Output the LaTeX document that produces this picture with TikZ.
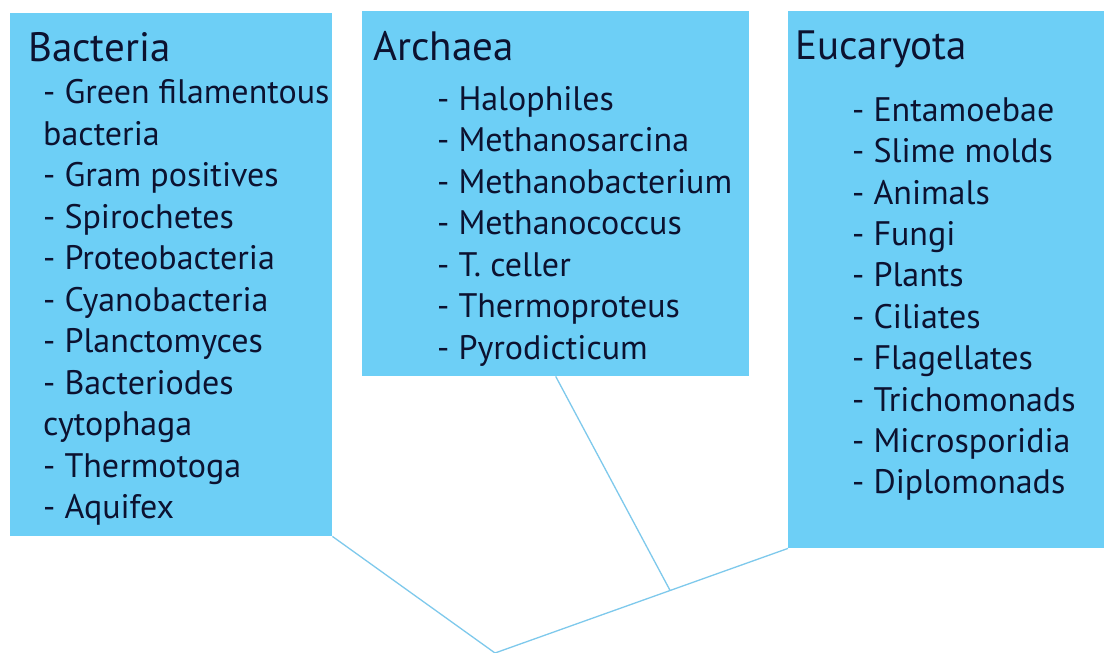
\documentclass[tikz,border=0pt]{standalone}
\usepackage{fontspec}
\setmainfont{PT Sans}
\definecolor{boxblue}{HTML}{6DCFF6}
\definecolor{linkblue}{HTML}{7EC9EC}
\definecolor{ink}{HTML}{0C1230}
\begin{document}
\begin{tikzpicture}[x=1pt,y=-1pt,
  domainbox/.style={fill=boxblue,draw=none,anchor=north west,inner sep=0pt},
  ttl/.style={anchor=base west,inner sep=0pt,text=ink,font=\fontsize{41}{41}\selectfont},
  itm/.style={anchor=base west,inner sep=0pt,text=ink,font=\fontsize{34}{34}\selectfont},
  link/.style={draw=linkblue,line width=1.3pt}]
\useasboundingbox (0,0) rectangle (1104,653);
\fill[white] (0,0) rectangle (1104,653);
% boxes
\node[domainbox,minimum width=322pt,minimum height=523pt] (bact) at (10,13) {};
\node[domainbox,minimum width=387pt,minimum height=365pt] (arch) at (362,11) {};
\node[domainbox,minimum width=316pt,minimum height=537pt] (euc) at (788,11) {};
% Bacteria
\node[ttl] (bt) at (28,61) {Bacteria};
\node[itm] (b1) at (43,103) {- Green filamentous};
\node[itm] (b2) at (43,145) {bacteria};
\node[itm] (b3) at (43,186) {- Gram positives};
\node[itm] (b4) at (43,228) {- Spirochetes};
\node[itm] (b5) at (43,269) {- Proteobacteria};
\node[itm] (b6) at (43,311) {- Cyanobacteria};
\node[itm] (b7) at (43,352) {- Planctomyces};
\node[itm] (b8) at (43,394) {- Bacteriodes};
\node[itm] (b9) at (43,435) {cytophaga};
\node[itm] (b10) at (43,477) {- Thermotoga};
\node[itm] (b11) at (43,518) {- Aquifex};
% Archaea
\node[ttl] (at) at (373,60) {Archaea};
\node[itm] (a1) at (437,110) {- Halophiles};
\node[itm] (a2) at (437,151) {- Methanosarcina};
\node[itm] (a3) at (437,193) {- Methanobacterium};
\node[itm] (a4) at (437,234) {- Methanococcus};
\node[itm] (a5) at (437,276) {- T. celler};
\node[itm] (a6) at (437,317) {- Thermoproteus};
\node[itm] (a7) at (437,359) {- Pyrodicticum};
% Eucaryota
\node[ttl] (et) at (795,59) {Eucaryota};
\node[itm] (e1) at (852,121) {- Entamoebae};
\node[itm] (e2) at (852,162) {- Slime molds};
\node[itm] (e3) at (852,204) {- Animals};
\node[itm] (e4) at (852,245) {- Fungi};
\node[itm] (e5) at (852,286) {- Plants};
\node[itm] (e6) at (852,328) {- Ciliates};
\node[itm] (e7) at (852,369) {- Flagellates};
\node[itm] (e8) at (852,411) {- Trichomonads};
\node[itm] (e9) at (852,452) {- Microsporidia};
\node[itm] (e10) at (852,493) {- Diplomonads};
% tree
\coordinate (root) at (495,653);
\coordinate (join) at (670,590.3);
\draw[link] (bact.south east) -- (root);
\draw[link] (euc.south west) -- (root);
\draw[link] (arch.south) -- (join);
\end{tikzpicture}
\end{document}
